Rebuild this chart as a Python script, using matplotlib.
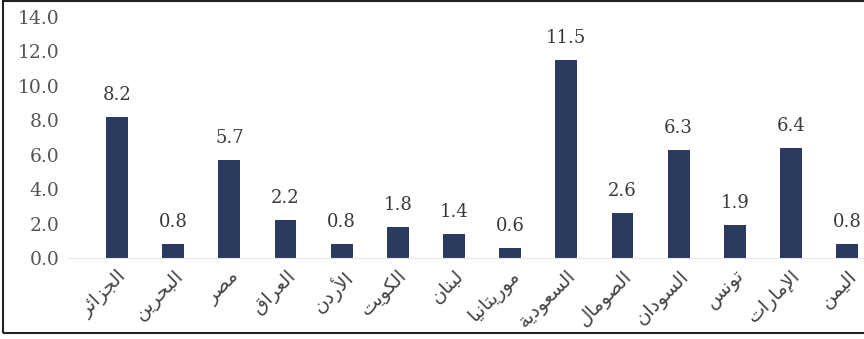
import matplotlib.pyplot as plt
from matplotlib.patches import Rectangle

countries = ["الجزائر", "البحرين", "مصر", "العراق", "الأردن", "الكويت", "لبنان",
             "موريتانيا", "السعودية", "الصومال", "السودان", "تونس", "الإمارات", "اليمن"]
values = [8.2, 0.8, 5.7, 2.2, 0.8, 1.8, 1.4, 0.6, 11.5, 2.6, 6.3, 1.9, 6.4, 0.8]
yticks = [0, 2, 4, 6, 8, 10, 12, 14]

# minimal arabic shaping: (isolated, final, initial, medial)
FORMS = {
    "ء": (0xFE80, None, None, None),
    "آ": (0xFE81, 0xFE82, None, None),
    "أ": (0xFE83, 0xFE84, None, None),
    "ؤ": (0xFE85, 0xFE86, None, None),
    "إ": (0xFE87, 0xFE88, None, None),
    "ئ": (0xFE89, 0xFE8A, 0xFE8B, 0xFE8C),
    "ا": (0xFE8D, 0xFE8E, None, None),
    "ب": (0xFE8F, 0xFE90, 0xFE91, 0xFE92),
    "ة": (0xFE93, 0xFE94, None, None),
    "ت": (0xFE95, 0xFE96, 0xFE97, 0xFE98),
    "ث": (0xFE99, 0xFE9A, 0xFE9B, 0xFE9C),
    "ج": (0xFE9D, 0xFE9E, 0xFE9F, 0xFEA0),
    "ح": (0xFEA1, 0xFEA2, 0xFEA3, 0xFEA4),
    "خ": (0xFEA5, 0xFEA6, 0xFEA7, 0xFEA8),
    "د": (0xFEA9, 0xFEAA, None, None),
    "ذ": (0xFEAB, 0xFEAC, None, None),
    "ر": (0xFEAD, 0xFEAE, None, None),
    "ز": (0xFEAF, 0xFEB0, None, None),
    "س": (0xFEB1, 0xFEB2, 0xFEB3, 0xFEB4),
    "ش": (0xFEB5, 0xFEB6, 0xFEB7, 0xFEB8),
    "ص": (0xFEB9, 0xFEBA, 0xFEBB, 0xFEBC),
    "ض": (0xFEBD, 0xFEBE, 0xFEBF, 0xFEC0),
    "ط": (0xFEC1, 0xFEC2, 0xFEC3, 0xFEC4),
    "ظ": (0xFEC5, 0xFEC6, 0xFEC7, 0xFEC8),
    "ع": (0xFEC9, 0xFECA, 0xFECB, 0xFECC),
    "غ": (0xFECD, 0xFECE, 0xFECF, 0xFED0),
    "ف": (0xFED1, 0xFED2, 0xFED3, 0xFED4),
    "ق": (0xFED5, 0xFED6, 0xFED7, 0xFED8),
    "ك": (0xFED9, 0xFEDA, 0xFEDB, 0xFEDC),
    "ل": (0xFEDD, 0xFEDE, 0xFEDF, 0xFEE0),
    "م": (0xFEE1, 0xFEE2, 0xFEE3, 0xFEE4),
    "ن": (0xFEE5, 0xFEE6, 0xFEE7, 0xFEE8),
    "ه": (0xFEE9, 0xFEEA, 0xFEEB, 0xFEEC),
    "و": (0xFEED, 0xFEEE, None, None),
    "ى": (0xFEEF, 0xFEF0, None, None),
    "ي": (0xFEF1, 0xFEF2, 0xFEF3, 0xFEF4),
}
LAM_ALEF = {"آ": (0xFEF5, 0xFEF6), "أ": (0xFEF7, 0xFEF8),
            "إ": (0xFEF9, 0xFEFA), "ا": (0xFEFB, 0xFEFC)}


def dual(c):
    return c in FORMS and FORMS[c][2] is not None


def shape(word):
    out = []
    i = 0
    n = len(word)
    while i < n:
        c = word[i]
        prev_joins = i > 0 and dual(word[i - 1])
        if c == "ل" and i + 1 < n and word[i + 1] in LAM_ALEF:
            iso, fin = LAM_ALEF[word[i + 1]]
            out.append(chr(fin if prev_joins else iso))
            i += 2
            continue
        if c not in FORMS:
            out.append(c)
            i += 1
            continue
        iso, fin, ini, med = FORMS[c]
        next_joins = dual(c) and i + 1 < n and word[i + 1] in FORMS
        if prev_joins and next_joins:
            code = med
        elif prev_joins:
            code = fin or iso
        elif next_joins:
            code = ini
        else:
            code = iso
        out.append(chr(code))
        i += 1
    return "".join(reversed(out))


fig = plt.figure(figsize=(8.64, 3.39), dpi=100)
ax = fig.add_axes([68 / 864, 0.239, 1 - 68 / 864, 0.711])

x = list(range(len(values)))
ax.bar(x, values, width=0.39, color="#2b3b5f")
for xi, v in zip(x, values):
    ax.text(xi, v + 0.75, f"{v:.1f}", ha="center", va="bottom",
            fontsize=13, family="DejaVu Serif", color="#3a3a3a")

ax.set_xlim(-0.873, 13.30)
ax.set_ylim(0, 14)
ax.set_yticks(yticks)
ax.set_yticklabels([f"{t:.1f}" for t in yticks], fontsize=13.5,
                   family="DejaVu Serif", color="#555555")
ax.set_xticks(x)
ax.set_xticklabels([shape(c) for c in countries], rotation=45, ha="right",
                   va="top", rotation_mode="anchor", fontsize=14,
                   family="DejaVu Sans", color="#444444")
ax.tick_params(length=0, pad=6)
for s in ["top", "right", "left"]:
    ax.spines[s].set_visible(False)
ax.spines["bottom"].set_color("#e6e6e6")

fig.patches.append(Rectangle((3 / 864, 6 / 339), 1.0, 1 - 7 / 339,
                             transform=fig.transFigure, fill=False,
                             edgecolor="#222222", linewidth=1.5))

fig.savefig("out.png", dpi=100)
